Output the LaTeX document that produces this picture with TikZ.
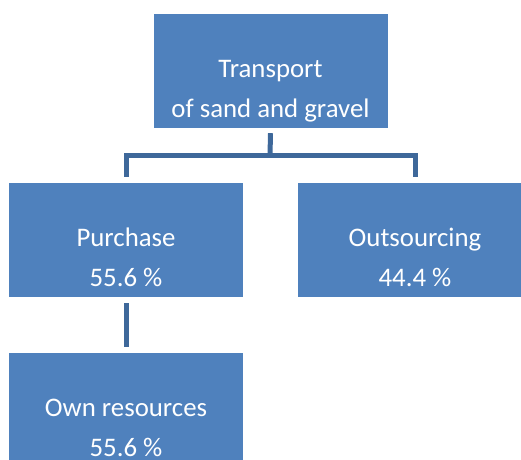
\documentclass[tikz,border=0pt]{standalone}
\usepackage{fontspec}
\setmainfont{Carlito}
\usepackage{tikz}

\definecolor{boxblue}{RGB}{79,129,189}
\definecolor{lineblue}{RGB}{62,104,154}

\begin{document}
\begin{tikzpicture}[x=1pt,y=-1pt,
	box/.style={shape=rectangle,fill=boxblue,minimum width=234pt,minimum height=114pt,inner sep=0pt},
	boxtext/.style={anchor=base,text=white,align=center,inner sep=0pt,font=\fontsize{26.8}{40}\selectfont},
	conn/.style={-, line width=5pt, lineblue}]
			\useasboundingbox (0,0) rectangle (521,459);
			\node[box] (T) at (270.5,71) {};
			\node[box] (P) at (126,240) {};
			\node[box] (O) at (415,240) {};
			\node[box] (R) at (126,410) {};
			
			% base anchor sits on the last line
			\node[boxtext] (Ttext) at ([yshift=-104pt]T.north) {Transport\\of sand and gravel};
			\node[boxtext] (Ptext) at ([yshift=-104pt]P.north) {Purchase\\55.6 \%};
			\node[boxtext] (Otext) at ([yshift=-104pt]O.north) {Outsourcing\\44.4 \%};
			\node[boxtext] (Rtext) at ([yshift=-104pt]R.north) {Own resources\\55.6 \%};
			
			\coordinate (fork) at (270,155.5);
			\path [conn] ([yshift=-5pt]T.south) edge (fork);
			\draw [conn] ([yshift=6pt]P.north) |- (fork) -| ([yshift=6pt]O.north);
			\path [conn] ([yshift=-6pt]P.south) edge ([yshift=6pt]R.north);
			\end{tikzpicture}
\end{document}
